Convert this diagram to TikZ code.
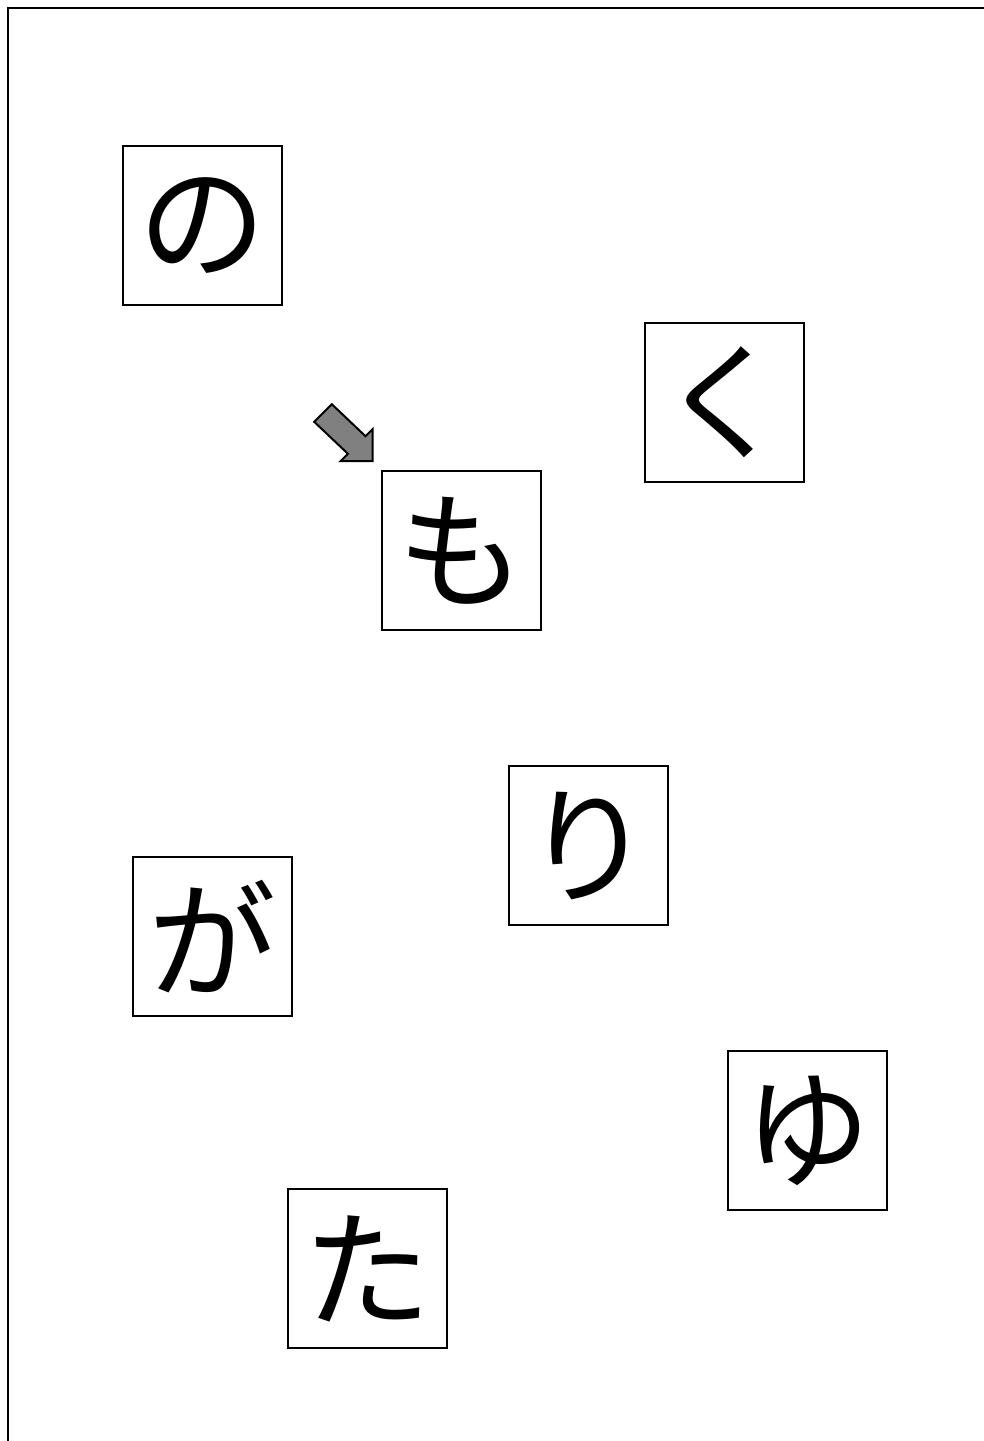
\documentclass[tikz,border=0pt]{standalone}
\usepackage{fontspec}
\newfontfamily\cjk{Noto Sans CJK JP}
\begin{document}
\begin{tikzpicture}[x=0.5pt,y=-0.5pt,
  kanabox/.style={draw=black,line width=1.1pt,minimum width=79.5pt,minimum height=79.5pt,inner sep=0pt,font=\cjk\fontsize{64}{64}\selectfont},
  pointer/.style={draw=black,line width=1pt,fill=black!50,line join=miter}]
\useasboundingbox (0,0) rectangle (984,1441);
\draw[line width=1.4pt] (8,1445) -- (8,8) -- (990,8);
\node[kanabox] (no) at (202.5,225.5) {の};
\node[kanabox] (ku) at (724.5,402.5) {く};
\node[kanabox] (mo) at (461.5,550.5) {も};
\node[kanabox] (ri) at (588.5,845.5) {り};
\node[kanabox] (ga) at (212.5,936.5) {が};
\node[kanabox] (yu) at (807.5,1130.5) {ゆ};
\node[kanabox] (ta) at (367.5,1268.5) {た};
\draw[pointer] (331.8,404.2) -- (365.5,436.2) -- (372.7,429) -- (372.7,461) -- (340.7,461) -- (347.9,453.8) -- (314.2,421.8) -- cycle;
\end{tikzpicture}
\end{document}
